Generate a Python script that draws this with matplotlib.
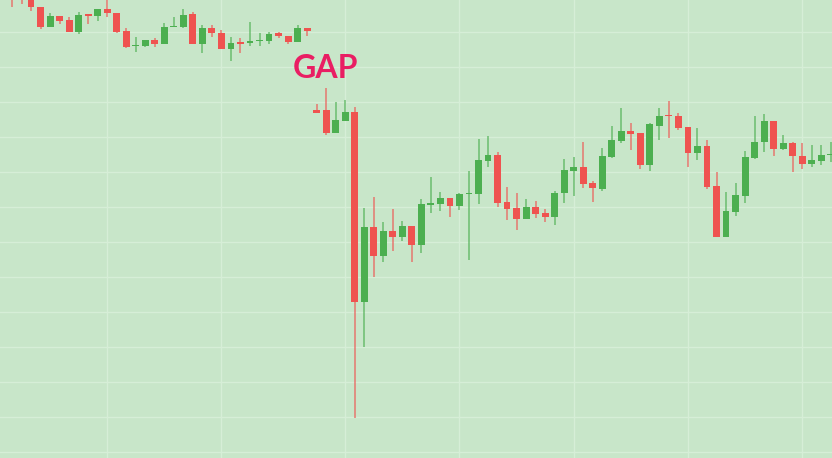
import matplotlib
matplotlib.use("Agg")
import matplotlib.pyplot as plt
from matplotlib.patches import Rectangle
import numpy as np

# candle data (open, high, low, close)
opens = [233.4, 232.6, 230.0, 227.1, 221.4, 224.6, 223.4, 220.0, 224.9, 224.6,
         226.6, 225.4, 220.3, 215.9, 216.0, 217.7, 216.6, 221.4, 221.4, 225.1,
         216.6, 221.1, 219.7, 215.1, 217.0, 216.9, 217.4, 217.4, 219.7, 218.9,
         217.1, 221.1,
         197.7, 197.7, 191.1, 194.6, 197.1, 142.9, 164.3, 156.0, 163.1, 161.4,
         164.6, 159.1, 170.7, 170.9, 172.6, 170.3, 173.6, 173.7, 183.1, 184.9,
         171.4, 169.7, 166.6, 170.0, 168.3, 167.1, 174.0, 180.3, 181.4, 176.9,
         175.1, 184.3, 188.9, 191.7, 191.1, 182.0, 193.1, 196.1, 196.0, 192.9,
         185.4, 187.4, 176.0, 161.4, 168.6, 173.1, 184.0, 188.6, 194.6, 186.6,
         188.3, 184.6, 182.3, 183.1, 184.8]
highs = [234.9, 233.4, 230.9, 227.1, 225.4, 224.6, 224.3, 225.7, 225.1, 226.6,
         229.1, 225.4, 221.1, 218.6, 217.7, 218.3, 222.6, 224.3, 226.6, 225.7,
         222.0, 222.0, 220.6, 218.6, 218.3, 222.9, 219.7, 220.0, 220.0, 218.9,
         222.0, 221.1,
         199.4, 204.0, 200.0, 200.6, 198.6, 169.7, 172.9, 165.7, 169.4, 166.0,
         164.6, 172.3, 178.6, 174.3, 172.6, 174.0, 180.3, 189.4, 190.3, 185.7,
         175.7, 174.0, 172.3, 171.7, 169.4, 174.6, 183.7, 184.3, 188.6, 177.4,
         186.9, 193.1, 198.3, 194.0, 191.1, 194.0, 198.3, 200.3, 196.9, 192.9,
         192.6, 189.1, 180.0, 174.3, 176.9, 186.0, 196.0, 196.6, 194.6, 190.6,
         188.6, 188.3, 187.7, 187.7, 188.6]
lows = [227.1, 228.0, 226.0, 220.9, 221.4, 222.3, 220.0, 219.4, 222.3, 223.1,
        224.3, 219.7, 215.4, 214.3, 215.7, 215.7, 216.6, 221.4, 221.1, 216.6,
        214.0, 218.6, 215.1, 211.7, 214.0, 216.0, 216.0, 216.6, 218.3, 216.6,
        217.1, 218.9,
        196.9, 190.6, 191.1, 194.6, 109.7, 130.0, 150.0, 154.3, 157.4, 160.3,
        154.3, 156.9, 168.3, 168.9, 167.1, 169.1, 154.9, 170.9, 181.4, 170.0,
        166.3, 163.4, 166.6, 166.9, 165.7, 164.9, 171.1, 173.1, 175.4, 171.4,
        174.6, 184.0, 188.3, 186.3, 180.9, 180.3, 189.1, 189.7, 192.0, 181.4,
        183.4, 175.1, 161.4, 161.4, 167.4, 171.1, 183.7, 185.7, 184.6, 186.3,
        180.0, 180.9, 181.4, 182.0, 182.9]
closes = [230.6, 230.3, 227.1, 221.4, 224.6, 223.1, 220.0, 224.9, 224.6, 226.6,
          225.4, 220.0, 215.7, 216.1, 217.7, 216.6, 221.4, 221.7, 224.9, 216.6,
          221.1, 219.7, 215.1, 216.9, 216.7, 217.4, 217.7, 219.4, 218.9, 217.1,
          221.1, 220.3,
          196.9, 191.1, 194.9, 197.1, 142.9, 164.3, 156.0, 163.1, 161.4, 164.6,
          159.1, 170.9, 171.0, 172.6, 170.3, 173.7, 173.8, 183.4, 184.9, 171.1,
          169.4, 166.6, 170.0, 168.0, 167.1, 174.0, 180.6, 181.4, 176.6, 175.4,
          184.6, 189.1, 191.7, 190.9, 182.0, 193.7, 196.0, 195.9, 192.6, 185.4,
          187.4, 175.7, 161.4, 168.9, 173.4, 184.3, 188.6, 194.6, 186.6, 188.3,
          184.6, 182.3, 183.4, 184.9, 185.0]

vgrid = [10, 22, 35, 47, 59, 71, 83]
hgrid = np.arange(100, 230, 10)

bg = "#c8e6c9"
up = "#4caf50"
down = "#ef5350"

fig = plt.figure(figsize=(8.32, 4.58), dpi=100)
fig.patch.set_facecolor(bg)
ax = fig.add_axes([0, 0, 1, 1])
ax.set_facecolor(bg)

for v in vgrid:
    ax.axvline(v, color="#d6eed7", lw=1.0, zorder=0)
for h in hgrid:
    ax.axhline(h, color="#d6eed7", lw=1.0, zorder=0)

w = 0.72
for i in range(len(opens)):
    o, hi, lo, c = opens[i], highs[i], lows[i], closes[i]
    col = up if c >= o else down
    ax.vlines(i, lo, hi, color=col, lw=1.1, alpha=0.75, zorder=2)
    bottom = min(o, c)
    height = max(abs(c - o), 0.45)
    ax.add_patch(Rectangle((i - w / 2, bottom), w, height,
                           facecolor=col, edgecolor="none", zorder=3))

ax.text(32.9, 209.6, "GAP", color="#e91e63", fontsize=23, fontweight="bold",
        family="Lato", ha="center", va="center")

ax.set_xlim(-1.26, 86.13)
ax.set_ylim(98.29, 229.14)
ax.axis("off")

fig.savefig("out.png", dpi=100, facecolor=bg)
